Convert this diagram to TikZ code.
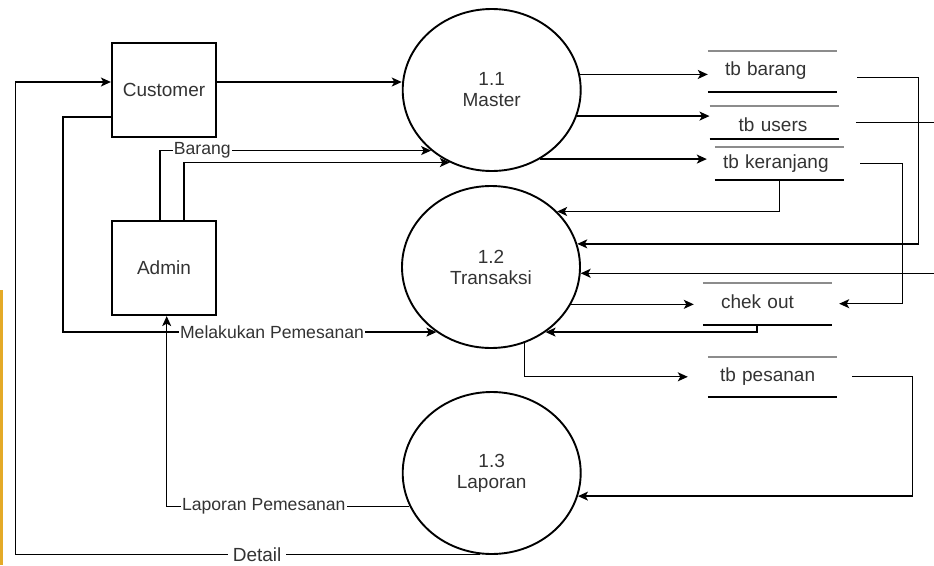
\documentclass[tikz,border=0pt]{standalone}
\usepackage{fontspec}
\setmainfont{Liberation Sans}
\usetikzlibrary{shapes.geometric,arrows.meta}
\definecolor{strip}{RGB}{228,170,40}
\begin{document}
\begin{tikzpicture}[x=1pt,y=-1pt,
  txt/.style={text=black!80,font=\fontsize{19}{21}\selectfont},
  entity/.style={txt,draw=black,line width=2.2pt,minimum width=104pt,minimum height=94pt,inner sep=0pt},
  proc/.style={txt,ellipse,draw=black,line width=1.9pt,minimum width=178pt,minimum height=162pt,inner sep=0pt,align=center},
  store/.style 2 args={txt,inner xsep=#1,inner ysep=0pt,text width=#2,text height=13.5pt,text depth=4pt,minimum height=41pt,align=left},
  flow/.style={draw=black,line width=1.3pt,-{Stealth[length=10pt,width=9pt,inset=2.5pt]}},
  lbl/.style={text=black!80,font=\fontsize{17.6}{20}\selectfont,fill=white,inner sep=1pt}]
\useasboundingbox (0,0) rectangle (934,565);
\clip (0,0) rectangle (934,565);
\fill[strip] (0,290) rectangle (3,565);
\node[entity] (cust) at (164,90) {Customer};
\node[entity] (adm) at (164,268) {Admin};
\node[proc] (p11) at (491.7,90) {1.1\\Master};
\node[proc] (p12) at (491,267) {1.2\\Transaksi};
\node[proc] (p13) at (491.7,473) {1.3\\Laporan};
\node[store={17pt}{95pt}] (barang) at (772.5,71.2) {tb barang};
\node[store={29pt}{71pt},minimum height=33pt,text height=22pt] (users) at (774.2,122.3) {tb users};
\node[store={8pt}{113pt},minimum height=33pt] (keranjang) at (779.5,163.3) {tb keranjang};
\node[store={18pt}{93pt},minimum height=42pt] (chekout) at (767.5,303.7) {chek out};
\node[store={12pt}{105pt},minimum height=40pt] (pesanan) at (772.5,376.8) {tb pesanan};
\foreach \s in {barang,users,keranjang,chekout,pesanan}{
  \draw[black!45,line width=2pt] (\s.north west) -- (\s.north east);
  \draw[black,line width=1.3pt] (\s.south west) -- (\s.south east);
}
\draw[flow] ([yshift=8pt]cust.east) -- ([yshift=8pt]cust.east -| p11.west);
\draw[flow] ([yshift=-27pt]cust.west) -- ++(-48,0) |- node[lbl,pos=0.78]{Melakukan Pemesanan} (p12.-130);
\draw[flow] ([xshift=-4pt]adm.north) |- node[lbl,pos=0.578]{Barang} (p11.-135);
\draw[flow] ([xshift=20pt]adm.north) |- (p11.-120);
\draw[flow] (p13.-158) -| node[lbl,pos=0.3]{Laporan Pemesanan} ([xshift=2.7pt]adm.south);
\draw[flow] (p13.-98) -- node[lbl,font=\fontsize{19}{21}\selectfont,inner xsep=5pt,pos=0.48]{Detail} ++(-465,0) |- ([yshift=8pt]cust.west);
\draw[flow] (p11.10) -- (p11.10 -| barang.west);
\draw[flow] (p11.-17) -- (p11.-17 -| users.west);
\draw[flow,shorten >=8pt] (p11.-55) -- (p11.-55 -| keranjang.west);
\draw[flow] (keranjang.south) |- (p12.40);
\draw[flow] ([xshift=20pt,yshift=-6pt]barang.east) -- ++(61,0) |- (p12.15);
\draw[flow] ([xshift=17pt]users.east) -- ++(100,0) |- (p12.-4);
\draw[flow,shorten >=9pt] (p12.-25) -- (p12.-25 -| chekout.west);
\draw[flow] ([xshift=16pt]keranjang.east) -- ++(42,0) |- ([xshift=7pt]chekout.east);
\draw[flow] ([xshift=-10.5pt]chekout.south) |- (p12.-50);
\draw[flow,shorten >=20pt] (p12.-66) |- (pesanan.west);
\draw[flow] ([xshift=15pt]pesanan.east) -- ++(60,0) |- (p13.-15);
\end{tikzpicture}
\end{document}
